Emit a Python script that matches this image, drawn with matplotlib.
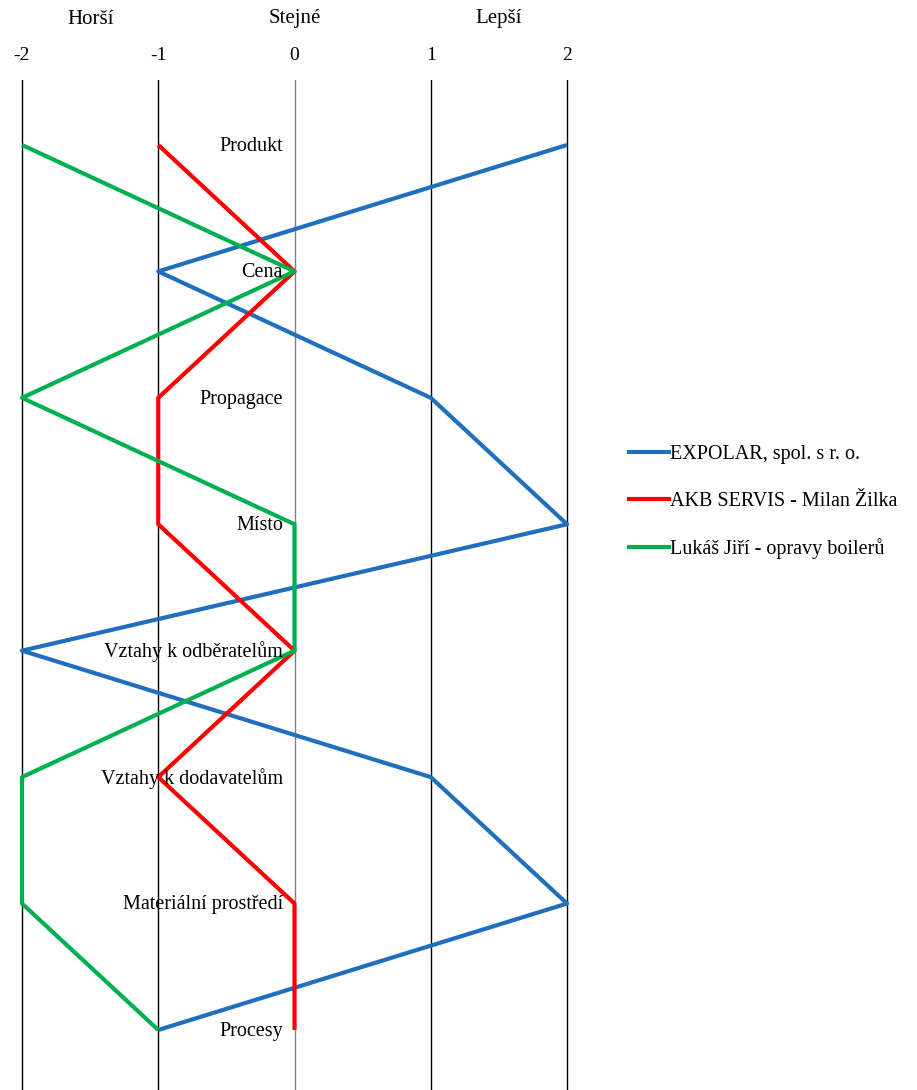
import matplotlib
matplotlib.use("Agg")
import matplotlib.pyplot as plt
from matplotlib.lines import Line2D

categories = ["Produkt", "Cena", "Propagace", "Místo", "Vztahy k odběratelům",
              "Vztahy k dodavatelům", "Materiální prostředí", "Procesy"]
series_names = ["EXPOLAR, spol. s r. o.", "AKB SERVIS - Milan Žilka", "Lukáš Jiří - opravy boilerů"]
expolar = [2, -1, 1, 2, -2, 1, 2, -1]
akb = [-1, 0, -1, -1, 0, -1, 0, 0]
lukas = [-2, 0, -2, 0, 0, -2, -2, -1]
colors = ["#1F6FBF", "#FF0000", "#00B050"]
scale_ticks = [-2, -1, 0, 1, 2]
scale_words = ["Horší", "Stejné", "Lepší"]
scale_word_pos = [-1.5, 0, 1.5]

plt.rcParams['font.family'] = ['Liberation Serif', 'DejaVu Serif']

W, H = 917, 1090
x_m2, x_p2 = 22, 567
unit = (x_p2 - x_m2) / 4
pad = 0.1
fig = plt.figure(figsize=(W / 100, H / 100), dpi=100)
left_px = x_m2 - pad * unit
top_px = 80
ax = fig.add_axes([left_px / W, 0, (4 + 2 * pad) * unit / W, 1 - top_px / H])
ax.set_xlim(-2 - pad, 2 + pad)
ax.set_ylim(7.475, -0.514)
ax.axis('off')

for t in scale_ticks:
    ax.axvline(t, color='#808080' if t == 0 else 'black', lw=1.0, zorder=1)

ypos = list(range(len(categories)))
for vals, c, name in zip([expolar, akb, lukas], colors, series_names):
    ax.plot(vals, ypos, color=c, lw=3.0, zorder=2, solid_joinstyle='round',
            solid_capstyle='butt', label=name)

for y, cat in zip(ypos, categories):
    ax.text(-0.085, y + 0.01, cat, ha='right', va='center', fontsize=14.5, zorder=3)

def fx(v):
    return (x_m2 + (v + 2) * unit) / W

for t in scale_ticks:
    fig.text(fx(t), 1 - 55 / H, str(t), ha='center', va='center', fontsize=14)
for t, w in zip(scale_word_pos, scale_words):
    fig.text(fx(t), 1 - 19 / H, w, ha='center', va='center', fontsize=15)

handles = [Line2D([0], [0], color=c, lw=3.0) for c in colors]
fig.legend(handles, series_names, loc='center left', bbox_to_anchor=(629 / W, 1 - 502 / H),
           frameon=False, fontsize=14.5, handlelength=2.0, handletextpad=0.05,
           labelspacing=1.38, borderaxespad=0, borderpad=0)

fig.savefig("out.png", dpi=100)
